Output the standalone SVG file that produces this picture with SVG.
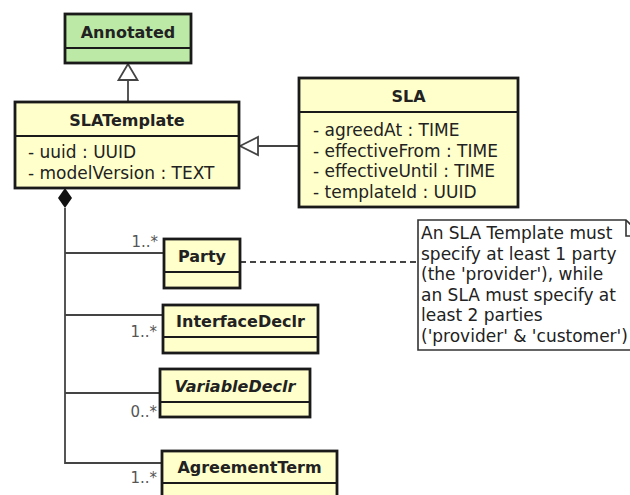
<svg xmlns="http://www.w3.org/2000/svg" width="630" height="495" viewBox="0 0 630 495">
<style>
.box{fill:#FFFFCC;stroke:#1a1a1a;stroke-width:2.8}
.green{fill:#BDE9A6}
.div{stroke:#1a1a1a;stroke-width:2}
.title{font-family:"DejaVu Sans",sans-serif;font-weight:bold;font-size:16px;fill:#222;text-anchor:middle}
.attr{font-family:"DejaVu Sans",sans-serif;font-size:17px;fill:#222}
.mult{font-family:"DejaVu Sans",sans-serif;font-size:15px;fill:#555;text-anchor:end}
.note{font-family:"DejaVu Sans",sans-serif;font-size:17px;fill:#222}
.conn{stroke:#444;stroke-width:1.8;fill:none}
.tri{fill:#fff;stroke:#444;stroke-width:1.8}
</style>
<rect width="630" height="495" fill="#fff"/>
<g id="connectors">
<line class="conn" x1="128" y1="80" x2="128" y2="102"/>
<polygon class="tri" points="128,64 118.5,80 137.5,80"/>
<line class="conn" x1="258" y1="146" x2="299" y2="146"/>
<polygon class="tri" points="240,146 258,137 258,155"/>
<polygon points="65,188 72,198 65,208 58,198" fill="#111"/>
<polyline class="conn" points="65,208 65,463 162,463"/>
<line class="conn" x1="65" y1="253" x2="164" y2="253"/>
<line class="conn" x1="65" y1="315" x2="163" y2="315"/>
<line class="conn" x1="65" y1="393" x2="160" y2="393"/>
<line class="conn" x1="240" y1="262" x2="418" y2="262" stroke-dasharray="6,4"/>
<text class="mult" x="158" y="247">1..*</text>
<text class="mult" x="157" y="337">1..*</text>
<text class="mult" x="157" y="417">0..*</text>
<text class="mult" x="157" y="483">1..*</text>
</g>
<g id="Annotated">
<rect class="box green" x="65" y="14" width="126" height="49"/>
<line class="div" x1="65" y1="48" x2="191" y2="48"/>
<text class="title" x="128" y="37.5">Annotated</text>
</g>
<g id="SLATemplate">
<rect class="box" x="15" y="102" width="224" height="86"/>
<line class="div" x1="15" y1="136" x2="239" y2="136"/>
<text class="title" x="127" y="126">SLATemplate</text>
<text class="attr" x="28" y="158">- uuid : UUID</text>
<text class="attr" x="28" y="179">- modelVersion : TEXT</text>
</g>
<g id="SLA">
<rect class="box" x="299" y="78" width="219" height="129"/>
<line class="div" x1="299" y1="112" x2="518" y2="112"/>
<text class="title" x="408.5" y="102">SLA</text>
<text class="attr" x="313" y="136">- agreedAt : TIME</text>
<text class="attr" x="313" y="156.5">- effectiveFrom : TIME</text>
<text class="attr" x="313" y="177">- effectiveUntil : TIME</text>
<text class="attr" x="313" y="197.5">- templateId : UUID</text>
</g>
<g id="Party">
<rect class="box" x="164" y="239" width="76" height="49"/>
<line class="div" x1="164" y1="272" x2="240" y2="272"/>
<text class="title" x="202" y="262">Party</text>
</g>
<g id="InterfaceDeclr">
<rect class="box" x="163" y="305" width="155" height="48"/>
<line class="div" x1="163" y1="337" x2="318" y2="337"/>
<text class="title" x="240.5" y="327">InterfaceDeclr</text>
</g>
<g id="VariableDeclr">
<rect class="box" x="160" y="369" width="150" height="48"/>
<line class="div" x1="160" y1="402" x2="310" y2="402"/>
<text class="title" x="235" y="392" font-style="italic">VariableDeclr</text>
</g>
<g id="AgreementTerm">
<rect class="box" x="162" y="451" width="175" height="60"/>
<line class="div" x1="162" y1="483" x2="337" y2="483"/>
<text class="title" x="249.5" y="473">AgreementTerm</text>
</g>
<g id="note">
<path d="M418,220 H626 L642,236 V350 H418 Z" fill="#fff" stroke="#333" stroke-width="1.6"/>
<path d="M626,220 V236 H642" fill="none" stroke="#333" stroke-width="1.6"/>
<text class="note" x="421" y="239">An SLA Template must</text>
<text class="note" x="421" y="259.5">specify at least 1 party</text>
<text class="note" x="421" y="280">(the 'provider'), while</text>
<text class="note" x="421" y="300.5">an SLA must specify at</text>
<text class="note" x="421" y="321">least 2 parties</text>
<text class="note" x="421" y="341.5">('provider' &amp; 'customer')</text>
</g>
</svg>
